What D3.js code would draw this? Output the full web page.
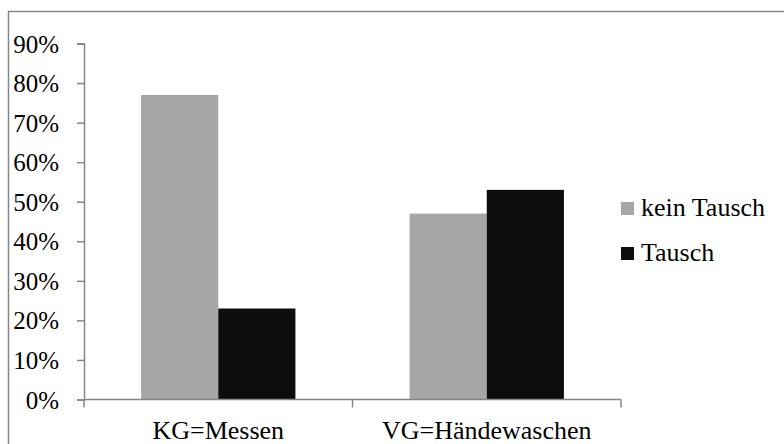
<!DOCTYPE html>
<html>
<head>
<meta charset="utf-8">
<script src="https://cdn.jsdelivr.net/npm/d3@7"></script>
<style>
  html, body { margin: 0; padding: 0; background: #fff; }
  svg { display: block; }
</style>
</head>
<body>
<svg id="chart" width="784" height="444" font-family="Liberation Serif"></svg>
<script>
// Anteil der Probanden mit / ohne Tausch je Gruppe
const categories = ["KG=Messen", "VG=Händewaschen"];
const seriesNames = ["kein Tausch", "Tausch"];
const keinTausch = [0.77, 0.47];
const tausch = [0.23, 0.53];
const yTicks = [0, 0.1, 0.2, 0.3, 0.4, 0.5, 0.6, 0.7, 0.8, 0.9];
const seriesColors = ["#a6a6a6", "#0d0d0d"];

const svg = d3.select("#chart");
const axisColor = "#868686";
const serif = "Liberation Serif";
const tickFontSize = 25;
const labelFontSize = 26;

// chart area frame (left and top edges visible)
svg.append("path")
  .attr("d", "M8.5,444 L8.5,11.5 L784,11.5")
  .attr("fill", "none")
  .attr("stroke", axisColor)
  .attr("stroke-width", 1.5);

const plot = { left: 84, right: 621, top: 43.5, bottom: 399.5 };

const x0 = d3.scaleBand().domain(categories).range([plot.left, plot.right]).paddingInner(0).paddingOuter(0);
const x1 = d3.scaleBand().domain(seriesNames).range([0, x0.bandwidth()]).paddingInner(0).paddingOuter(0.74);
const y = d3.scaleLinear().domain([0, 0.9]).range([plot.bottom, plot.top]);

const rows = categories.map((c, i) => ({ cat: c, values: [keinTausch[i], tausch[i]] }));

// bars
const groups = svg.append("g").selectAll("g").data(rows).join("g")
  .attr("transform", d => `translate(${x0(d.cat)},0)`);
groups.selectAll("rect")
  .data(d => d.values.map((v, j) => ({ key: seriesNames[j], value: v, color: seriesColors[j] })))
  .join("rect")
  .attr("x", d => x1(d.key))
  .attr("width", x1.bandwidth())
  .attr("y", d => y(d.value))
  .attr("height", d => y(0) - y(d.value))
  .attr("fill", d => d.color);

// y axis
const yAxis = svg.append("g")
  .attr("transform", `translate(${plot.left},0)`)
  .call(d3.axisLeft(y).tickValues(yTicks).tickFormat(d3.format(".0%")).tickSize(7).tickPadding(18))
  .attr("font-family", serif)
  .attr("font-size", tickFontSize);
yAxis.select(".domain").attr("stroke", axisColor).attr("stroke-width", 1.5);
yAxis.selectAll(".tick line").attr("stroke", axisColor).attr("stroke-width", 1.5);
yAxis.selectAll(".tick text")
  .attr("font-family", serif)
  .attr("font-size", tickFontSize)
  .attr("fill", "#000")
  .attr("dy", "0.34em");

// x axis with boundary ticks between categories
const xAxisG = svg.append("g").attr("transform", `translate(0,${plot.bottom})`);
xAxisG.append("line")
  .attr("x1", plot.left).attr("x2", plot.right)
  .attr("stroke", axisColor).attr("stroke-width", 1.5);
const boundaries = [plot.left, ...categories.map(c => x0(c) + x0.bandwidth())];
xAxisG.selectAll(".btick").data(boundaries).join("line")
  .attr("class", "btick")
  .attr("x1", d => d).attr("x2", d => d)
  .attr("y1", 0).attr("y2", 8)
  .attr("stroke", axisColor).attr("stroke-width", 1.5);
xAxisG.selectAll(".xlabel").data(categories).join("text")
  .attr("class", "xlabel")
  .attr("x", d => x0(d) + x0.bandwidth() / 2)
  .attr("y", 39.5)
  .attr("text-anchor", "middle")
  .attr("font-family", serif)
  .attr("font-size", labelFontSize)
  .text(d => d);

// legend
const legend = svg.append("g").attr("transform", "translate(621,0)");
const legendRows = [216, 261];
seriesNames.forEach((name, i) => {
  legend.append("rect")
    .attr("x", 0).attr("y", legendRows[i] - 14)
    .attr("width", 13).attr("height", 13)
    .attr("fill", seriesColors[i]);
  legend.append("text")
    .attr("x", 20).attr("y", legendRows[i])
    .attr("font-family", serif)
    .attr("font-size", labelFontSize)
    .text(name);
});
</script>
</body>
</html>
